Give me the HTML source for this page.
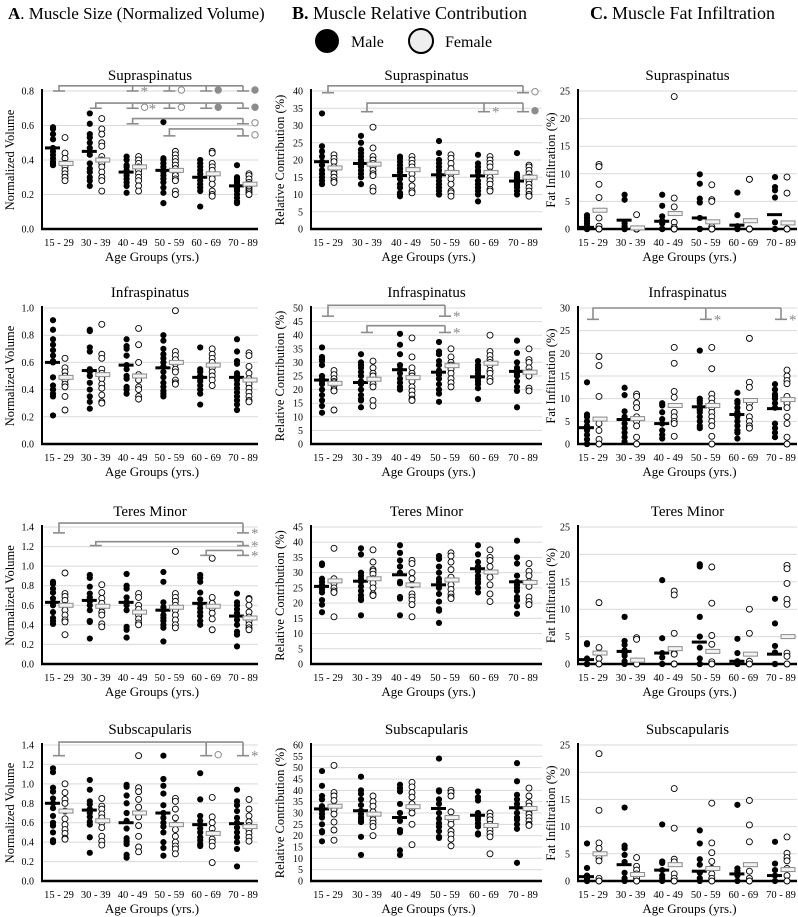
<!DOCTYPE html>
<html><head><meta charset="utf-8">
<style>
html,body{margin:0;padding:0;background:#fff;}
svg{display:block;font-family:"Liberation Serif",serif;}
</style></head>
<body>
<svg id="fig" width="798" height="917" viewBox="0 0 798 917" xmlns="http://www.w3.org/2000/svg">
<text x="8" y="19" font-size="17"><tspan font-weight="bold">A</tspan>. Muscle Size (Normalized Volume)</text>
<text x="292" y="19" font-size="18"><tspan font-weight="bold">B.</tspan> Muscle Relative Contribution</text>
<text x="590" y="19" font-size="18"><tspan font-weight="bold">C.</tspan> Muscle Fat Infiltration</text>
<g>
<circle cx="327" cy="41" r="12" fill="#000"/>
<text x="351" y="47" font-size="16">Male</text>
<circle cx="421" cy="41" r="12" fill="#eee" stroke="#000" stroke-width="2"/>
<text x="445" y="47" font-size="16">Female</text>
</g>
</svg>
<script>
const categories = ["15 - 29","30 - 39","40 - 49","50 - 59","60 - 69","70 - 89"];

// ---- A: normalized volume ----
const a1Male = [[0.59,0.58,0.55,0.52,0.47,0.45,0.43,0.41,0.39,0.37,0.38],[0.67,0.61,0.55,0.53,0.50,0.47,0.45,0.43,0.38,0.35,0.33,0.30,0.28,0.25],[0.42,0.40,0.37,0.36,0.34,0.33,0.31,0.29,0.27,0.25,0.21],[0.62,0.41,0.40,0.38,0.36,0.34,0.33,0.31,0.29,0.27,0.24,0.21,0.15],[0.40,0.38,0.36,0.34,0.32,0.30,0.28,0.26,0.24,0.22,0.13],[0.37,0.30,0.29,0.28,0.27,0.26,0.25,0.24,0.23,0.22,0.20,0.18,0.16,0.15]];
const a1Female = [[0.53,0.44,0.41,0.38,0.36,0.34,0.32,0.30,0.28],[0.64,0.58,0.55,0.50,0.48,0.42,0.40,0.38,0.36,0.33,0.30,0.28,0.22],[0.42,0.40,0.38,0.36,0.34,0.32,0.30,0.28,0.25,0.22],[0.45,0.43,0.41,0.39,0.37,0.35,0.33,0.31,0.29,0.28,0.22,0.20],[0.45,0.44,0.38,0.36,0.34,0.31,0.29,0.26,0.22,0.20,0.19],[0.32,0.31,0.29,0.27,0.26,0.25,0.24,0.23,0.22,0.21,0.20]];
const a1MaleMean = [0.47,0.45,0.33,0.34,0.30,0.25];
const a1FemaleMean = [0.38,0.40,0.36,0.34,0.32,0.26];

const a2Male = [[0.91,0.84,0.77,0.73,0.69,0.65,0.61,0.60,0.49,0.43,0.40,0.37,0.35,0.21],[0.84,0.83,0.71,0.68,0.55,0.53,0.50,0.45,0.40,0.35,0.31,0.26],[0.77,0.72,0.70,0.65,0.58,0.55,0.50,0.48,0.42,0.40,0.37],[0.80,0.76,0.70,0.66,0.63,0.60,0.57,0.53,0.49,0.45,0.42,0.39,0.37,0.35],[0.71,0.55,0.53,0.50,0.48,0.46,0.43,0.40,0.37,0.29],[0.77,0.68,0.61,0.59,0.52,0.50,0.47,0.44,0.41,0.38,0.35,0.32,0.29,0.25]];
const a2Female = [[0.63,0.56,0.53,0.50,0.47,0.44,0.42,0.35,0.25],[0.88,0.66,0.63,0.55,0.52,0.48,0.44,0.41,0.36,0.31,0.30],[0.85,0.73,0.60,0.51,0.47,0.42,0.40,0.35,0.33],[0.98,0.68,0.65,0.62,0.59,0.55,0.53,0.47,0.45,0.44],[0.70,0.66,0.63,0.60,0.56,0.53,0.50,0.47,0.43],[0.67,0.65,0.57,0.52,0.48,0.44,0.41,0.38,0.35,0.32,0.31]];
const a2MaleMean = [0.60,0.54,0.58,0.56,0.49,0.49];
const a2FemaleMean = [0.49,0.51,0.50,0.60,0.58,0.47];

const a3Male = [[0.84,0.82,0.77,0.73,0.67,0.63,0.60,0.53,0.47,0.44,0.41],[0.91,0.88,0.79,0.72,0.68,0.64,0.60,0.55,0.44,0.43,0.26],[0.92,0.80,0.77,0.68,0.63,0.60,0.55,0.38,0.35,0.27],[0.94,0.84,0.63,0.58,0.55,0.50,0.47,0.44,0.40,0.37,0.23],[0.91,0.88,0.84,0.73,0.66,0.61,0.57,0.53,0.49,0.44,0.40],[0.72,0.63,0.60,0.56,0.52,0.49,0.45,0.40,0.33,0.30,0.18]];
const a3Female = [[0.93,0.72,0.69,0.65,0.60,0.55,0.50,0.45,0.43,0.30],[0.81,0.73,0.67,0.62,0.58,0.53,0.50,0.41,0.38],[0.72,0.68,0.60,0.56,0.50,0.46,0.42,0.40],[1.15,0.72,0.68,0.64,0.60,0.55,0.50,0.45,0.40,0.37],[1.08,0.68,0.62,0.57,0.52,0.46,0.35],[0.67,0.66,0.60,0.53,0.48,0.44,0.40,0.37,0.35]];
const a3MaleMean = [0.63,0.65,0.63,0.55,0.62,0.49];
const a3FemaleMean = [0.60,0.59,0.53,0.58,0.59,0.47];

const a4Male = [[1.16,1.12,0.96,0.92,0.85,0.80,0.75,0.67,0.60,0.57,0.50,0.42,0.40],[1.04,0.94,0.82,0.79,0.74,0.70,0.66,0.61,0.58,0.45,0.29],[0.99,0.97,0.88,0.80,0.70,0.62,0.54,0.44,0.41,0.38,0.27,0.24],[1.29,1.05,0.98,0.90,0.78,0.70,0.65,0.60,0.56,0.50,0.40,0.34,0.26],[1.11,0.84,0.67,0.62,0.58,0.54,0.50,0.45,0.42,0.38,0.36],[0.94,0.82,0.78,0.72,0.65,0.60,0.55,0.50,0.45,0.40,0.33,0.15]];
const a4Female = [[1.00,0.91,0.84,0.80,0.72,0.64,0.58,0.53,0.49,0.44,0.43],[0.85,0.77,0.74,0.69,0.65,0.60,0.55,0.46,0.41,0.37],[1.29,0.96,0.92,0.84,0.76,0.66,0.57,0.46,0.35,0.30],[0.85,0.82,0.74,0.65,0.58,0.53,0.46,0.40,0.36,0.33,0.28],[0.86,0.66,0.60,0.54,0.49,0.43,0.40,0.36,0.19],[0.84,0.74,0.67,0.61,0.57,0.53,0.49,0.45,0.41]];
const a4MaleMean = [0.80,0.73,0.60,0.70,0.58,0.59];
const a4FemaleMean = [0.72,0.62,0.70,0.58,0.49,0.56];

// ---- B: relative contribution ----
const b1Male = [[33.5,24,22.5,21,19.5,18.5,17,16,15,14,13],[27,25,23,22,21,20,19.5,19,18.5,18,17,16,15,13],[21,20.5,19.5,18.5,17.5,16.5,15.5,14.5,13,12,10.5,10,9.5],[25.5,22,20,19,18,17,16,15,14,13,12,11,10,10],[21.5,19,18,17,16.5,15.5,14,13,12,11,10,8],[22,16,15.5,15,14.5,14,13.5,13,12.5,12,11,10]];
const b1Female = [[21.5,20.5,19.5,18,17,16,15,14,13.5],[29.5,23.5,21,20,19,18,17,16,15.5,12,11],[21,20,19,18,17,16,14.5,12.5,11,10.5],[21.5,20.5,19,17.5,16,14.5,13,11,10.5,9.5],[21,20,19,18,16.5,15,14,13,11.5,11],[18.5,18,17,16,15,14,13,12,11,10,9.5]];
const b1MaleMean = [19.5,19,15.5,15.7,15.4,13.9];
const b1FemaleMean = [17.7,18.8,17.2,16.4,16.4,15];

const b2Male = [[35.5,32,31,30.5,29,25,24,23,22,20,18,16,14,11.5],[33,30,29,28,26.5,25,23,22,20,18,16.5,16,13.5],[40.5,36.5,33,29,27.5,26,24,22.5,21,20],[37.5,34,33,30.5,29,27,25.5,24,22,20,18.5,15.5],[30.5,29,28,27,26,25,24,23,22,20.5,16.5],[38,33.5,30,28,27,26,25,23,21,19.5,13.5]];
const b2Female = [[27,25.5,24,23,22.5,21.5,20,19.5,12.5],[30.5,28,26,25,23.5,22,21,16,14],[39,32,28,26,25,23,21,19.5,18,16.5,16],[35,32,30,29,27.5,26,24,22.5,21],[40,34,32.5,31,30,29,27,26,24,23],[35,31,30,28,26.5,25,20.5,19.5]];
const b2MaleMean = [23.5,22.6,27.3,26.4,24.7,26.7];
const b2FemaleMean = [22.3,23.8,24.4,28.8,29.7,26.4];

const b3Male = [[33,32.5,28,27,26,25.5,24.5,23.5,21,19.5,17],[38,36,30,29,28,27.5,27,25.5,24,22.5,21.5,21,16],[39,36.5,34,32,30,27,26.5,22,21.5,16],[35.5,34.5,32,30,28,27,26,25,23,20.5,18,17.5,13.5],[39,36,33.5,32,31,30.5,29,28,27,26.5,25,23.5],[40.5,35,33,29,27,26,25,24,22,21,19,16.5]];
const b3Female = [[38,28,27,26.5,25,24,23.5,15.5],[37.5,33.5,31,30.5,29.5,28,26.5,25,23,22.5],[34,33,30,28,26,23,22,21,19.5,15.5],[36.5,35.5,33.5,31,28.5,26,24.5,23,22,21.5],[37.5,35,34,32,30,28.5,26,23,20.5],[33,30.5,29,27,25.5,22,20.5,19.5]];
const b3MaleMean = [25.5,27.2,29.3,26,31.3,27];
const b3FemaleMean = [27.3,28,26,27.6,30.2,26.8];

const b4Male = [[48.5,42,37.5,36,33,31,29.5,28,25,22,21.5,17.5],[46,40,38.5,36,33.5,31,29.5,28,27,26,19.5,11.5],[42.5,41,39.5,34,30,26.5,22.5,21.5,13.5,11.5],[54,40,39.5,36,34,30,27.5,25.5,24,22,19.5,19],[39.5,37,35.5,30,28,27,25.5,24,21,20.5],[52,44,38,36,34,32.5,30,28,27,25,23,8]];
const b4Female = [[51,39,37.5,35.5,33,31.5,29.5,26,22.5,18],[37.5,35,33,30.5,29,27,25.5,24,20],[43.5,41.5,39,37,34,32,30,25,16],[40,39,37.5,30.5,27,25,22,20.5,18.5,15.5],[30,28.5,27,25,22.5,21,19.5,12],[41,37.5,34.5,33,31,29.5,28,26.5,25,24.5]];
const b4MaleMean = [31.8,31,28,32,29,32.3];
const b4FemaleMean = [33,29.5,32.8,28,24.5,32];

// ---- C: fat infiltration ----
const c1Male = [[2.5,2,1.5,1,0.5,0,0,0],[6.2,5.3,1,0.5,0,0,0,0],[6.2,4.2,2.3,1.5,1,0,0,0],[9.9,8.2,5.5,4.8,2,0,0,0],[6.6,2.5,0.5,0,0,0],[9.4,7.6,7,5.7,1.2,0,0]];
const c1Female = [[11.7,11.3,8.1,5.7,2,0.5,0,0],[2.6,0,0,0],[24,5.6,4,1.2,0.3,0,0],[8,5.3,5,0.4,0,0],[9,9,0,0,0],[9.4,6.5,0,0]];
const c1MaleMean = [0.3,1.6,1.4,2,0.7,2.6];
const c1FemaleMean = [3.4,0.2,2.8,1.3,1.5,1.1];

const c2Male = [[13.6,6.5,6,5,4,3.5,3,2,1,0,0],[12.4,10.8,7.2,6,5.5,4.5,3.5,2.5,1.5,0.5],[9,8.5,7,5.5,4.5,3,2,1.2],[20.6,10,9.5,9,8,7.5,7,6,5,4,3.5],[11.3,9.5,9,8,7,6.5,6,5,4,3,2.5,1.2],[13.2,12,11,10.5,10,9,8,4.5,3.5,2.5,1.5]];
const c2Female = [[19.3,17.3,10.5,4.5,3,1,0],[11,10.5,9,8,6,5,4,1.5,0],[21.3,17.8,11.6,10.3,7,6,5,4.5,1.7],[21.3,16.6,11,10,9,8,7,6,5,4,1.7,0],[23.3,13.6,12.5,9,8,6,5,4,3.5],[16.3,15,14,13.3,10.5,9,8,6,4.5,1.5,0]];
const c2MaleMean = [3.6,5.4,4.5,8.2,6.5,7.8];
const c2FemaleMean = [5.5,5.6,8.5,8.5,9.6,9.8];

const c3Male = [[3.8,3.6,1,0,0,0],[8.6,4.2,3.5,2.5,2,1.5,0.5,0],[15.3,4.7,2,1.2,0,0],[18.2,17.8,8.6,5,3,1,0,0],[4.6,2,0.5,0,0],[11.9,7.4,3.3,2.1,0,0]];
const c3Female = [[11.2,3,2,1,0],[4.8,4.5,0.5,0],[13.3,12.6,5.6,2,1.8,0,0],[17.7,11.1,5.2,3.6,0.4,0],[10,5.6,0.5,0],[18,17.4,14.7,11.8,10.9,2,1.4,0]];
const c3MaleMean = [0.8,2.3,2,4,0.5,1.8];
const c3FemaleMean = [2,0.7,2.8,2.3,1.8,5];

const c4Male = [[6.9,2.4,1,0.5,0,0],[13.5,6.5,6,4.8,3.5,1.5,0.5,0],[10.4,3.6,3.3,2,1,0.5,0],[9.3,6.9,4,3,1.5,0.5,0],[14,2.3,1.8,1,0],[7.2,3.2,2,1,0]];
const c4Female = [[23.4,13,7,6,4.3,3.7,0.5,0],[4.3,2.7,2,1.3,0.5,0],[17,9.7,4,3.5,1.3,0.5,0],[14.3,7,5.2,3.6,2.3,1.3,0.5,0],[14.8,10.3,7.2,1.8,0.5,0],[8.1,5.1,4.3,3.7,2.3,1,0]];
const c4MaleMean = [0.8,3,2,1.8,1.3,1];
const c4FemaleMean = [5,1.2,3,2.3,3,2.1];

// ---- y tick labels ----
const ticksA1 = ["0.0","0.2","0.4","0.6","0.8"];
const ticksA2 = ["0.0","0.2","0.4","0.6","0.8","1.0"];
const ticksA34 = ["0.0","0.2","0.4","0.6","0.8","1.0","1.2","1.4"];
const ticksB1 = ["0","5","10","15","20","25","30","35","40"];
const ticksB2 = ["0","5","10","15","20","25","30","35","40","45","50"];
const ticksB3 = ["0","5","10","15","20","25","30","35","40","45"];
const ticksB4 = ["0","5","10","15","20","25","30","35","40","45","50","55","60"];
const ticksC25 = ["0","5","10","15","20","25"];
const ticksC30 = ["0","5","10","15","20","25","30"];

// ---- significance brackets ----
const bracketsA1 = [{from:0,top:0.83,foot:0.80,to:[[2,0.80,"*"],[3,0.80,"o"],[4,0.80,"f"],[5,0.80,"f"]]},{from:1,top:0.73,foot:0.70,to:[[2,0.70,"o*"],[3,0.70,"o"],[4,0.70,"f"],[5,0.70,"f"]]},{from:2,top:0.64,foot:0.61,to:[[5,0.61,"o"]]},{from:3,top:0.58,foot:0.54,to:[[5,0.54,"o"]]}];
const bracketsA3 = [{from:0,top:1.44,foot:1.34,to:[[5,1.34,"*"]]},{from:1,top:1.25,foot:1.21,to:[[5,1.21,"*"]]},{from:4,top:1.16,foot:1.11,to:[[5,1.11,"*"]]}];
const bracketsA4 = [{from:0,top:1.43,foot:1.29,to:[[4,1.29,"o"],[5,1.29,"*"]]}];
const bracketsB1 = [{from:0,top:41.5,foot:39.5,to:[[5,39.5,"o"]]},{from:1,top:36.5,foot:34,to:[[4,34,"*"],[5,34,"f"]]}];
const bracketsB2 = [{from:0,top:51,foot:47,to:[[3,47,"*"]]},{from:1,top:43.5,foot:41,to:[[3,41,"*"]]}];
const bracketsC2 = [{from:0,top:30,foot:27.5,to:[[3,27.5,"*"],[5,27.5,"*"]]}];

const NS = "http://www.w3.org/2000/svg";
const svg = document.getElementById("fig");
function mk(tag, attrs, parent){ const e=document.createElementNS(NS,tag); for(const k in attrs) e.setAttribute(k,attrs[k]); (parent||svg).appendChild(e); return e; }

const rows = [[91,229],[308,444],[527,664],[745,881]];
const cols = {A:{axis:42,c0:59,step:36.8,right:258,yt:14},B:{axis:311,c0:328,step:39,right:542,yt:284},C:{axis:578,c0:593,step:37.6,right:797,yt:555}};
const titles = ["Supraspinatus","Infraspinatus","Teres Minor","Subscapularis"];

function panel(id, col, row, ymax, ticks, yTitle, male, female, mMean, fMean, brackets){
  const C = cols[col], top = rows[row][0], bot = rows[row][1];
  const g = mk("g",{});
  
  
  const y = v => bot - (v/ymax)*(bot-top);
  const x = i => C.c0 + i*C.step;
  const t = mk("text",{x:(C.axis+C.right)/2,y:top-11,"font-size":15,"text-anchor":"middle"},g);
  t.textContent = titles[row];
  
  
  ticks.forEach((lab,k)=>{
    const v = ymax*k/(ticks.length-1);
    if(k>0){ const gl=mk("line",{x1:C.axis,x2:C.right,y1:y(v),y2:y(v),stroke:"#d9d9d9","stroke-width":1},g);
      
       }
    const tl=mk("text",{x:C.axis-8,y:y(v)+3.5,"font-size":10,"text-anchor":"end"},g);
    tl.textContent=lab;
    
    
  });
  const ya=mk("line",{x1:C.axis,x2:C.axis,y1:top-2,y2:bot+1,stroke:"#000","stroke-width":2},g);
  
  
  const xa=mk("line",{x1:C.axis-1,x2:C.right,y1:bot,y2:bot,stroke:"#000","stroke-width":2.5},g);
  
  
  categories.forEach((c,i)=>{
    const tl=mk("text",{x:x(i),y:bot+17,"font-size":10.5,"text-anchor":"middle"},g);
    tl.textContent=c;
    
    
  });
  const xt=mk("text",{x:(C.axis+C.right)/2+2,y:bot+32,"font-size":13,"text-anchor":"middle"},g);
  xt.textContent="Age Groups (yrs.)";
  
  
  const yy=(top+bot)/2;
  const ytt=mk("text",{x:C.yt,y:yy,"font-size":12.5,"text-anchor":"middle",transform:`rotate(-90 ${C.yt} ${yy})`},g);
  ytt.textContent=yTitle;
  
  
  male.forEach((arr,i)=>arr.forEach(v=>{
    const d=mk("circle",{cx:x(i)-6,cy:y(v),r:3.1,fill:"#000"},g);
    
    
  }));
  female.forEach((arr,i)=>arr.forEach(v=>{
    const d=mk("circle",{cx:x(i)+6,cy:y(v),r:3,fill:"#fff",stroke:"#000","stroke-width":0.9},g);
    
    
  }));
  mMean.forEach((v,i)=>{
    const r=mk("rect",{x:x(i)-14,y:y(v)-1.5,width:15,height:3,fill:"#000"},g);
    
    
  });
  fMean.forEach((v,i)=>{
    const r=mk("rect",{x:x(i),y:y(v)-2,width:14,height:4,fill:"#f2f2f2",stroke:"#8a8a8a","stroke-width":1},g);
    
    
  });
  (brackets||[]).forEach(b=>{
    const bg=mk("g",{stroke:"#8c8c8c","stroke-width":1.6,fill:"none"},g);
    
    
    const last=b.to[b.to.length-1][0];
    mk("polyline",{points:`${x(b.from)},${y(b.foot)} ${x(b.from)},${y(b.top)} ${x(last)},${y(b.top)}`},bg);
    mk("line",{x1:x(b.from)-6,x2:x(b.from)+6,y1:y(b.foot),y2:y(b.foot)},bg);
    b.to.forEach(([gi,fv,mark])=>{
      mk("line",{x1:x(gi),x2:x(gi),y1:y(b.top),y2:y(fv)},bg);
      mk("line",{x1:x(gi)-6,x2:x(gi)+6,y1:y(fv),y2:y(fv)},bg);
      let mx=x(gi)+12;
      for(const ch of mark){
        if(ch==="*"){ const s=mk("text",{x:mx-4,y:y(fv)+5,"font-size":15,fill:"#8c8c8c",stroke:"none"},g); s.textContent="*";
            mx+=9; }
        else { const c=mk("circle",{cx:mx,cy:y(fv)-1,r:3.2,fill:ch==="f"?"#8c8c8c":"#fff",stroke:"#8c8c8c","stroke-width":1},g);
            mx+=8; }
      }
    });
  });
}

panel("panel-a-supraspinatus","A",0,0.8,ticksA1,"Normalized Volume",a1Male,a1Female,a1MaleMean,a1FemaleMean,bracketsA1);
panel("panel-a-infraspinatus","A",1,1.0,ticksA2,"Normalized Volume",a2Male,a2Female,a2MaleMean,a2FemaleMean,[]);
panel("panel-a-teres-minor","A",2,1.4,ticksA34,"Normalized Volume",a3Male,a3Female,a3MaleMean,a3FemaleMean,bracketsA3);
panel("panel-a-subscapularis","A",3,1.4,ticksA34,"Normalized Volume",a4Male,a4Female,a4MaleMean,a4FemaleMean,bracketsA4);
panel("panel-b-supraspinatus","B",0,40,ticksB1,"Relative Contribution (%)",b1Male,b1Female,b1MaleMean,b1FemaleMean,bracketsB1);
panel("panel-b-infraspinatus","B",1,50,ticksB2,"Relative Contribution (%)",b2Male,b2Female,b2MaleMean,b2FemaleMean,bracketsB2);
panel("panel-b-teres-minor","B",2,45,ticksB3,"Relative Contribution (%)",b3Male,b3Female,b3MaleMean,b3FemaleMean,[]);
panel("panel-b-subscapularis","B",3,60,ticksB4,"Relative Contribution (%)",b4Male,b4Female,b4MaleMean,b4FemaleMean,[]);
panel("panel-c-supraspinatus","C",0,25,ticksC25,"Fat Infiltration (%)",c1Male,c1Female,c1MaleMean,c1FemaleMean,[]);
panel("panel-c-infraspinatus","C",1,30,ticksC30,"Fat Infiltration (%)",c2Male,c2Female,c2MaleMean,c2FemaleMean,bracketsC2);
panel("panel-c-teres-minor","C",2,25,ticksC25,"Fat Infiltration (%)",c3Male,c3Female,c3MaleMean,c3FemaleMean,[]);
panel("panel-c-subscapularis","C",3,25,ticksC25,"Fat Infiltration (%)",c4Male,c4Female,c4MaleMean,c4FemaleMean,[]);
</script>
</body></html>
